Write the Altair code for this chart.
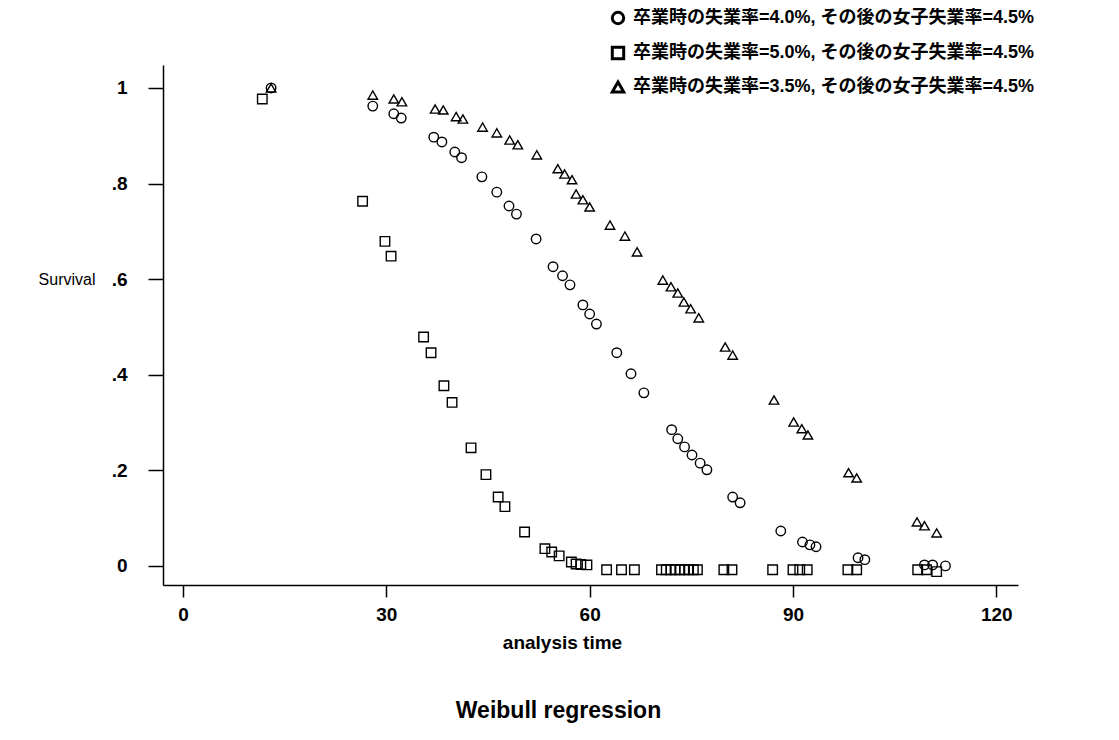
import altair as alt
import pandas as pd

# ---- data ----
series_labels = [
    "卒業時の失業率=4.0%, その後の女子失業率=4.5%",
    "卒業時の失業率=5.0%, その後の女子失業率=4.5%",
    "卒業時の失業率=3.5%, その後の女子失業率=4.5%",
]

circle_t = [13.0, 28.0, 31.1, 32.2, 37.0, 38.2, 40.1, 41.1, 44.1, 46.3, 48.1, 49.2,
            52.1, 54.6, 56.0, 57.1, 59.0, 60.0, 61.0, 64.0, 66.1, 68.0,
            72.1, 73.0, 74.0, 75.1, 76.3, 77.3, 81.1, 82.2, 88.2, 91.4, 92.5, 93.4,
            99.6, 100.6, 109.4, 110.6, 112.5]
circle_s = [1.000, 0.962, 0.946, 0.937, 0.897, 0.887, 0.866, 0.854, 0.814, 0.782, 0.753, 0.736,
            0.684, 0.626, 0.607, 0.588, 0.546, 0.527, 0.506, 0.446, 0.402, 0.362,
            0.285, 0.266, 0.249, 0.232, 0.215, 0.201, 0.144, 0.132, 0.073, 0.050, 0.044, 0.040,
            0.017, 0.013, 0.002, 0.002, 0.000]

square_t = [11.7, 26.5, 29.8, 30.7, 35.5, 36.6, 38.5, 39.7, 42.5, 44.7, 46.5, 47.5,
            50.4, 53.4, 54.4, 55.5, 57.3, 58.0, 58.7, 59.6, 62.5, 64.7, 66.6,
            70.6, 71.3, 72.0, 72.6, 73.3, 74.0, 74.6, 75.3, 75.9,
            79.8, 81.0, 87.0, 90.0, 91.0, 92.1, 98.1, 99.4, 108.4, 109.7, 111.2]
square_s = [0.977, 0.763, 0.679, 0.648, 0.479, 0.446, 0.377, 0.342, 0.247, 0.191, 0.144, 0.124,
            0.071, 0.036, 0.029, 0.021, 0.008, 0.004, 0.003, 0.002, -0.008, -0.008, -0.008,
            -0.008, -0.008, -0.008, -0.008, -0.008, -0.008, -0.008, -0.008, -0.008,
            -0.008, -0.008, -0.008, -0.008, -0.008, -0.008, -0.008, -0.008, -0.008, -0.008, -0.012]

triangle_t = [13.0, 28.0, 31.1, 32.3, 37.2, 38.4, 40.3, 41.3, 44.2, 46.3, 48.2, 49.4,
              52.2, 55.3, 56.3, 57.4, 58.0, 59.0, 60.0, 63.0, 65.2, 67.0,
              70.8, 72.0, 73.0, 73.9, 74.9, 76.1, 80.0, 81.1, 87.2, 90.1, 91.3, 92.2,
              98.2, 99.4, 108.3, 109.4, 111.2]
triangle_s = [1.000, 0.985, 0.977, 0.971, 0.956, 0.954, 0.940, 0.935, 0.918, 0.906, 0.891, 0.881,
              0.860, 0.831, 0.820, 0.808, 0.778, 0.766, 0.751, 0.713, 0.690, 0.657,
              0.598, 0.584, 0.571, 0.552, 0.538, 0.519, 0.458, 0.441, 0.347, 0.301, 0.287, 0.274,
              0.195, 0.184, 0.092, 0.084, 0.069]

x_ticks = [0, 30, 60, 90, 120]
y_ticks = [0, 0.2, 0.4, 0.6, 0.8, 1.0]

rows = []
for t, s in zip(circle_t, circle_s):
    rows.append({"t": t, "s": s, "group": series_labels[0]})
for t, s in zip(square_t, square_s):
    rows.append({"t": t, "s": s, "group": series_labels[1]})
for t, s in zip(triangle_t, triangle_s):
    rows.append({"t": t, "s": s, "group": series_labels[2]})
df = pd.DataFrame(rows)

LAT = "Liberation Sans, Arial, sans-serif"
JP = "Liberation Sans, 'Noto Sans CJK JP', sans-serif"

chart = alt.Chart(df).mark_point(
    filled=False, color="black", strokeWidth=1.4, opacity=1, size=90
).encode(
    x=alt.X(
        "t:Q",
        scale=alt.Scale(domain=[-2.95, 123.2], nice=False, zero=False),
        axis=alt.Axis(
            values=x_ticks, title="analysis time", format="d",
            tickSize=12, tickWidth=1.5, domainWidth=1.5,
            labelFontSize=19, labelFontWeight="bold", labelFont=LAT, labelPadding=8,
            titleFontSize=19, titleFontWeight="bold", titleFont=LAT,
            titleX=399, titleY=57, titleAlign="center", titleBaseline="middle",
        ),
    ),
    y=alt.Y(
        "s:Q",
        scale=alt.Scale(domain=[-0.04, 1.048], nice=False, zero=False),
        axis=alt.Axis(
            values=y_ticks, title="Survival",
            labelExpr="datum.value == 0 ? '0' : datum.value == 1 ? '1' : replace(format(datum.value, '.1f'), '0.', '.')",
            tickSize=15, tickWidth=1.5, domainWidth=1.5,
            labelFontSize=19, labelFontWeight="bold", labelFont=LAT, labelPadding=21,
            titleFontSize=16, titleFontWeight="normal", titleFont=LAT,
            titleAngle=0, titleX=-68, titleY=214, titleAlign="right", titleBaseline="middle",
        ),
    ),
    shape=alt.Shape(
        "group:N",
        scale=alt.Scale(domain=series_labels, range=["circle", "square", "triangle-up"]),
        legend=alt.Legend(
            title=None, orient="none", legendX=446, legendY=-56,
            labelFontSize=18, labelFontWeight="bold", labelFont=JP, labelColor="black",
            labelOffset=6, rowPadding=11, padding=0, labelLimit=700,
            symbolSize=130, symbolStrokeWidth=3, symbolStrokeColor="black",
            symbolFillColor="transparent",
        ),
    ),
).properties(
    width=855,
    height=520,
    autosize=alt.AutoSizeParams(type="none"),
    padding={"left": 155, "top": 57, "right": 93, "bottom": 147},
    title=alt.TitleParams(
        "Weibull regression", orient="bottom", anchor="middle", frame="group",
        fontSize=23, fontWeight="bold", font=LAT, color="black", offset=48, dx=-32,
    ),
).configure_view(
    stroke=None
).configure_axis(
    grid=False, domainColor="black", tickColor="black", labelColor="black", titleColor="black"
)

chart.save("out.html", embed_options={"renderer": "svg", "actions": False})
